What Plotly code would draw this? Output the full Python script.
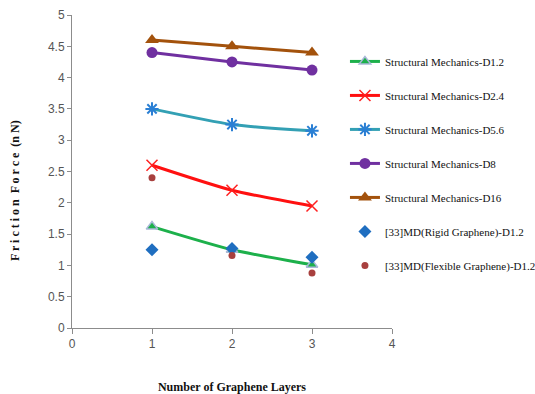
import plotly.graph_objects as go

layers = [1, 2, 3]
names = [
    "Structural Mechanics-D1.2",
    "Structural Mechanics-D2.4",
    "Structural Mechanics-D5.6",
    "Structural Mechanics-D8",
    "Structural Mechanics-D16",
    "[33]MD(Rigid Graphene)-D1.2",
    "[33]MD(Flexible Graphene)-D1.2",
]
sm_d12 = [1.62, 1.25, 1.01]
sm_d24 = [2.60, 2.20, 1.95]
sm_d56 = [3.50, 3.25, 3.15]
sm_d8 = [4.40, 4.25, 4.12]
sm_d16 = [4.60, 4.50, 4.40]
md_rigid = [1.25, 1.27, 1.13]
md_flex = [2.40, 1.16, 0.88]

x_ticks = [0, 1, 2, 3, 4]
y_ticks = [0, 0.5, 1, 1.5, 2, 2.5, 3, 3.5, 4, 4.5, 5]

fig = go.Figure()

def line_trace(y, name, lc, sym, mc, ms, mline=None, mlw=0):
    return go.Scatter(
        x=layers, y=y, name=name, mode="lines+markers",
        line=dict(color=lc, width=3, shape="spline", smoothing=0.6),
        marker=dict(symbol=sym, color=mc, size=ms,
                    line=dict(color=mline if mline else mc, width=mlw)),
        legendgroup=name,
    )

fig.add_trace(line_trace(sm_d12, names[0], "#1DB04B", "triangle-up", "#1DB04B", 10, "#A9B8D8", 1.5))
fig.add_trace(line_trace(sm_d24, names[1], "#FF1010", "x-thin-open", "#FF2020", 11, "#FF2020", 1.5))
fig.add_trace(line_trace(sm_d56, names[2], "#33A0B4", "asterisk-open", "#2A7FD4", 11, "#2A7FD4", 2))
fig.add_trace(line_trace(sm_d8, names[3], "#7030A0", "circle", "#7030A0", 11))
fig.add_trace(line_trace(sm_d16, names[4], "#A3520C", "triangle-up", "#A3520C", 12))
fig.add_trace(go.Scatter(x=layers, y=md_rigid, name=names[5], mode="markers",
                         marker=dict(symbol="diamond", color="#1F6EC0", size=10),
                         legendgroup=names[5]))
fig.add_trace(go.Scatter(x=layers, y=md_flex, name=names[6], mode="markers",
                         marker=dict(symbol="circle", color="#A8403E", size=7),
                         legendgroup=names[6]))

fig.update_layout(
    width=535, height=394,
    margin=dict(l=72, r=143, t=15, b=66, autoexpand=False),
    paper_bgcolor="white", plot_bgcolor="white",
    showlegend=True,
    legend=dict(x=0.853, y=0.898, xanchor="left", yanchor="top",
                font=dict(family="Liberation Serif", size=11, color="#111"),
                tracegroupgap=15, itemwidth=30, bgcolor="rgba(0,0,0,0)"),
    xaxis=dict(range=[0, 4], tickvals=x_ticks, showgrid=False, zeroline=False,
               automargin=False,
               showline=True, linecolor="#8C8C8C", linewidth=1,
               ticks="outside", ticklen=5, tickcolor="#8C8C8C",
               tickfont=dict(family="Liberation Sans", size=12, color="#555"),
               title=dict(text="<b>Number of Graphene Layers</b>",
                          font=dict(family="Liberation Serif", size=12, color="#111"),
                          standoff=32)),
    yaxis=dict(range=[0, 5], tickvals=y_ticks, showgrid=False, zeroline=False,
               automargin=False,
               showline=True, linecolor="#8C8C8C", linewidth=1,
               ticks="outside", ticklen=4, tickcolor="#8C8C8C",
               tickfont=dict(family="Liberation Sans", size=12, color="#555")),
    annotations=[dict(text="<b>F r i c t i o n  F o r c e  (n N)</b>",
                      xref="paper", yref="paper", x=-0.178, y=0.438,
                      xanchor="center", yanchor="middle", textangle=-90,
                      showarrow=False,
                      font=dict(family="Liberation Serif", size=12, color="#111"))],
)

fig.write_html("out.html", config={"displayModeBar": False},
               post_script="document.body.style.margin='0';document.body.style.overflow='hidden';")
